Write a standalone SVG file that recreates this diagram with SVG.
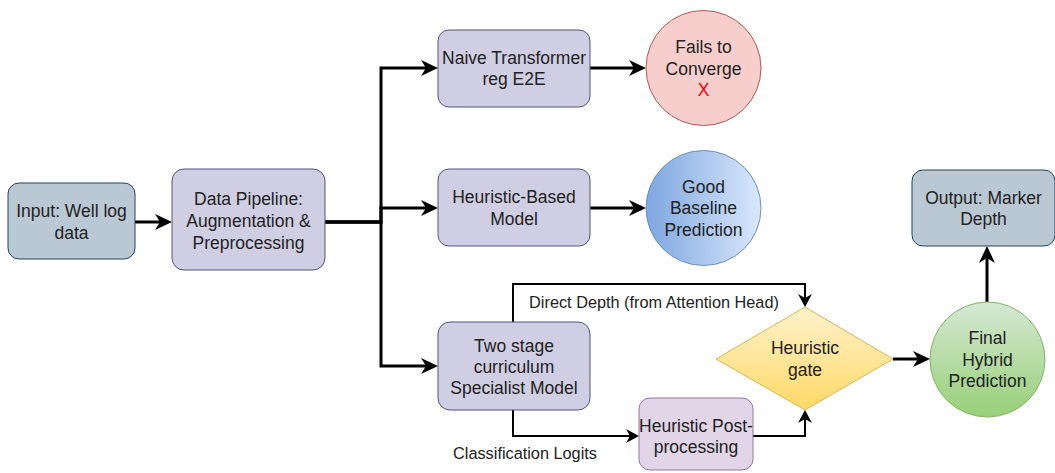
<svg xmlns="http://www.w3.org/2000/svg" width="1055" height="473" viewBox="0 0 1055 473">
<style>
  text { font-family: "Liberation Sans", Arial, Helvetica, sans-serif; fill: #222; text-anchor: middle; }
  .n { font-size: 17.5px; }
  .lbl { font-size: 16.3px; }
  .gray { fill: #bac8d3; stroke: #23445d; stroke-width: 1; }
  .purple { fill: #d0cee2; stroke: #56517e; stroke-width: 1; }
  .lilac { fill: #e1d5e7; stroke: #9673a6; stroke-width: 1; }
  .thick { fill: none; stroke: #000; stroke-width: 3; marker-end: url(#ah); }
  .thin { fill: none; stroke: #000; stroke-width: 2; marker-end: url(#ahs); }
</style>
<defs>
  <marker id="ah" viewBox="-18 -9 19 18" markerWidth="19" markerHeight="18" refX="-12" refY="0" orient="auto" markerUnits="userSpaceOnUse">
    <path d="M0,0 L-17,-8 L-12,0 L-17,8 z" fill="#000"/>
  </marker>
  <marker id="ahs" viewBox="-14 -8 15 16" markerWidth="15" markerHeight="16" refX="-9" refY="0" orient="auto" markerUnits="userSpaceOnUse">
    <path d="M0,0 L-13,-7 L-9,0 L-13,7 z" fill="#000"/>
  </marker>
  <linearGradient id="gBlue" x1="0" y1="0" x2="1" y2="0">
    <stop offset="0" stop-color="#7ea6e0"/>
    <stop offset="1" stop-color="#dae8fc"/>
  </linearGradient>
  <linearGradient id="gYellow" x1="0" y1="0" x2="0" y2="1">
    <stop offset="0" stop-color="#fff2cc"/>
    <stop offset="1" stop-color="#ffd966"/>
  </linearGradient>
  <linearGradient id="gGreen" x1="0" y1="0" x2="0" y2="1">
    <stop offset="0" stop-color="#d5e8d4"/>
    <stop offset="1" stop-color="#97d077"/>
  </linearGradient>
</defs>

<g id="connectors">
  <path class="thick" d="M135,222 H160"/>
  <path class="thick" d="M325,222 H381 V68 H426"/>
  <path class="thick" d="M325,222 H381 V208 H426"/>
  <path class="thick" d="M325,222 H381 V366 H426"/>
  <path class="thick" d="M590,68 H634"/>
  <path class="thick" d="M590,208 H634"/>
  <path class="thin" d="M513,322 V284 H805 V298"/>
  <path class="thin" d="M513,410 V436 H630"/>
  <path class="thin" d="M753,436 H805 V419"/>
  <path class="thick" d="M893,359 H918"/>
  <path class="thick" d="M987,302 V258"/>
  <text class="lbl" x="654" y="308">Direct Depth (from Attention Head)</text>
  <text class="lbl" x="525" y="459">Classification Logits</text>
</g>

<g id="input">
  <rect class="gray" x="8" y="183" width="127" height="76" rx="11"/>
  <text class="n" x="71.5" y="217">Input: Well log</text>
  <text class="n" x="71.5" y="238.5">data</text>
</g>

<g id="pipeline">
  <rect class="purple" x="172" y="169" width="153" height="101" rx="12"/>
  <text class="n" x="248.5" y="204.5">Data Pipeline:</text>
  <text class="n" x="248.5" y="226.5">Augmentation &amp;</text>
  <text class="n" x="248.5" y="248.5">Preprocessing</text>
</g>

<g id="naive">
  <rect class="purple" x="438" y="30" width="152" height="77" rx="11"/>
  <text class="n" x="514" y="63.5">Naive Transformer</text>
  <text class="n" x="514" y="85">reg E2E</text>
</g>

<g id="fails">
  <circle cx="703.5" cy="68" r="57.5" fill="#f8cecc" stroke="#b85450" stroke-width="1"/>
  <text class="n" x="703.5" y="53">Fails to</text>
  <text class="n" x="703.5" y="74.5">Converge</text>
  <text class="n" x="703.5" y="96" style="fill:#ff0000">X</text>
</g>

<g id="heuristic-model">
  <rect class="purple" x="438" y="169" width="152" height="77" rx="11"/>
  <text class="n" x="514" y="203">Heuristic-Based</text>
  <text class="n" x="514" y="224.5">Model</text>
</g>

<g id="good">
  <circle cx="703.5" cy="208" r="57.5" fill="url(#gBlue)" stroke="#6c8ebf" stroke-width="1"/>
  <text class="n" x="703.5" y="192.5">Good</text>
  <text class="n" x="703.5" y="214">Baseline</text>
  <text class="n" x="703.5" y="235.5">Prediction</text>
</g>

<g id="specialist">
  <rect class="purple" x="438" y="322" width="152" height="88" rx="12"/>
  <text class="n" x="514" y="351.5">Two stage</text>
  <text class="n" x="514" y="372.5">curriculum</text>
  <text class="n" x="514" y="393.5">Specialist Model</text>
</g>

<g id="postproc">
  <rect class="lilac" x="639" y="398" width="114" height="72" rx="11"/>
  <text class="n" x="696" y="431.5">Heuristic Post-</text>
  <text class="n" x="696" y="452.5">processing</text>
</g>

<g id="gate">
  <polygon points="805,307 893,359 805,410 716,359" fill="url(#gYellow)" stroke="#d6b656" stroke-width="1"/>
  <text class="n" x="805" y="354">Heuristic</text>
  <text class="n" x="805" y="375.5">gate</text>
</g>

<g id="final">
  <circle cx="987.5" cy="359.5" r="57.5" fill="url(#gGreen)" stroke="#82b366" stroke-width="1"/>
  <text class="n" x="987.5" y="344">Final</text>
  <text class="n" x="987.5" y="365.5">Hybrid</text>
  <text class="n" x="987.5" y="387">Prediction</text>
</g>

<g id="output">
  <rect class="gray" x="912" y="170" width="143" height="76" rx="11"/>
  <text class="n" x="983.5" y="203.5">Output: Marker</text>
  <text class="n" x="983.5" y="225">Depth</text>
</g>
</svg>
